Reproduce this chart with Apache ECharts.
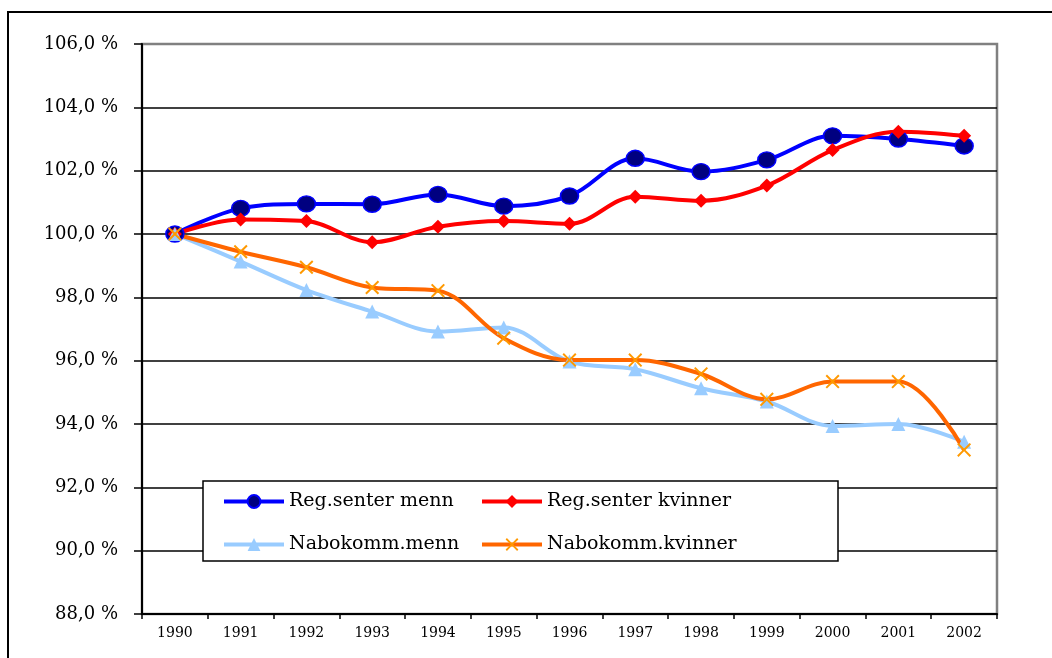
<!DOCTYPE html>
<html>
<head>
<meta charset="utf-8">
<script src="https://cdn.jsdelivr.net/npm/echarts@6/dist/echarts.min.js"></script>
<style>
  html, body { margin: 0; padding: 0; background: #fff; }
  #chart { width: 1052px; height: 658px; }
</style>
</head>
<body>
<div id="chart"></div>
<script>
// Befolkningsutvikling, indeks 1990 = 100 %
const years = ['1990', '1991', '1992', '1993', '1994', '1995', '1996', '1997', '1998', '1999', '2000', '2001', '2002'];
const regSenterMenn     = [100.0, 100.81, 100.95, 100.94, 101.25, 100.88, 101.20, 102.39, 101.97, 102.34, 103.10, 103.00, 102.78];
const regSenterKvinner  = [100.0, 100.46, 100.41, 99.74, 100.23, 100.41, 100.32, 101.18, 101.05, 101.53, 102.65, 103.23, 103.10];
const nabokommMenn      = [100.0, 99.13, 98.23, 97.55, 96.92, 97.05, 95.97, 95.73, 95.13, 94.71, 93.94, 94.00, 93.44];
const nabokommKvinner   = [100.0, 99.44, 98.95, 98.31, 98.21, 96.71, 96.02, 96.02, 95.58, 94.78, 95.34, 95.34, 93.18];
const yTicks = { min: 88, max: 106, step: 2 };

const FONT = '"DejaVu Serif", "Liberation Serif", serif';
const X_SYMBOL = 'path://M0,1 L1,0 L5,4 L9,0 L10,1 L6,5 L10,9 L9,10 L5,6 L1,10 L0,9 L4,5 Z';

function lineSeries(name, data, lineColor, symbol, size, fill, border) {
  return {
    name: name,
    type: 'line',
    data: data,
    smooth: 0.35,
    symbol: symbol,
    symbolSize: size,
    showAllSymbol: true,
    lineStyle: { color: lineColor, width: 4 },
    itemStyle: { color: fill, borderColor: border, borderWidth: border ? 1.5 : 0 },
    emphasis: { disabled: true }
  };
}

const gridColors = [];
for (let v = yTicks.min; v <= yTicks.max; v += yTicks.step) {
  gridColors.push(v === yTicks.max ? '#808080' : '#000000');
}

const legendCommon = {
  orient: 'vertical', top: 492, padding: 0,
  itemWidth: 60, itemHeight: 16, itemGap: 24,
  lineStyle: { width: 4 },
  textStyle: { fontFamily: FONT, fontSize: 19, color: '#000' },
  selectedMode: false, z: 5
};

const chart = echarts.init(document.getElementById('chart'));
chart.setOption({
  animation: false,
  backgroundColor: '#ffffff',
  textStyle: { fontFamily: FONT, color: '#000' },
  grid: {
    left: 142, right: 55, top: 44, bottom: 44,
    show: true, borderColor: '#808080', borderWidth: 2.5, backgroundColor: 'transparent'
  },
  xAxis: {
    type: 'category',
    data: years,
    boundaryGap: true,
    axisLine: { lineStyle: { color: '#000', width: 2 } },
    axisTick: { show: true, inside: false, length: 5, lineStyle: { color: '#000', width: 1.5 } },
    axisLabel: { fontFamily: FONT, fontSize: 14, color: '#000', margin: 12 },
    splitLine: { show: false }
  },
  yAxis: {
    type: 'value',
    min: yTicks.min, max: yTicks.max, interval: yTicks.step,
    axisLine: { show: true, lineStyle: { color: '#000', width: 2 } },
    axisTick: { show: true, inside: false, length: 8, lineStyle: { color: '#000', width: 1.5 } },
    axisLabel: {
      fontFamily: FONT, fontSize: 18, color: '#000', margin: 24,
      formatter: v => v.toFixed(1).replace('.', ',') + ' %'
    },
    splitLine: { show: true, lineStyle: { color: gridColors, width: 1.5 } }
  },
  legend: [
    Object.assign({ data: ['Reg.senter menn', 'Nabokomm.menn'], left: 222 }, legendCommon),
    Object.assign({ data: ['Reg.senter kvinner', 'Nabokomm.kvinner'], left: 480 }, legendCommon)
  ],
  graphic: [
    {
      type: 'rect', z: -1, silent: true,
      shape: { x: 8, y: 12, width: 1100, height: 700 },
      style: { fill: 'transparent', stroke: '#000', lineWidth: 2 }
    },
    {
      type: 'rect', z: 3, silent: true,
      shape: { x: 203, y: 481, width: 635, height: 80 },
      style: { fill: '#fff', stroke: '#000', lineWidth: 1.5 }
    }
  ],
  series: [
    lineSeries('Reg.senter menn', regSenterMenn, '#0000FF', 'circle', [18, 16], '#000080', '#0000FF'),
    lineSeries('Reg.senter kvinner', regSenterKvinner, '#FF0000', 'diamond', 14, '#FF0000', null),
    lineSeries('Nabokomm.menn', nabokommMenn, '#99CCFF', 'triangle', 14, '#99CCFF', null),
    lineSeries('Nabokomm.kvinner', nabokommKvinner, '#FF6600', X_SYMBOL, 14, '#FF9900', null)
  ]
});
</script>
</body>
</html>
